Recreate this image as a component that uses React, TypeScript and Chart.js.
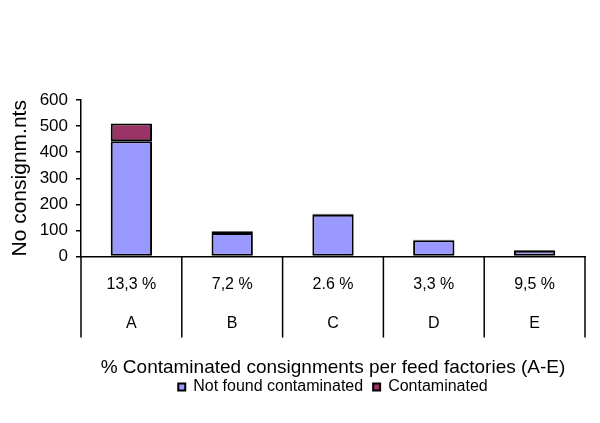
import React, { useEffect, useRef } from "react";
import { Chart, registerables } from "chart.js";

Chart.register(...registerables);

const factories = ["A", "B", "C", "D", "E"];
const percentLabels = ["13,3 %", "7,2 %", "2.6 %", "3,3 %", "9,5 %"];
const notFoundContaminated = [442, 90, 160, 63, 22];
const contaminated = [68, 7, 4, 2, 3];
const yTicks = [0, 100, 200, 300, 400, 500, 600];

const FONT = "'Liberation Sans', Arial, sans-serif";

const dividerPlugin = {
  id: "dividers",
  afterDraw(chart: any) {
    const xs = chart.scales.x;
    const area = chart.chartArea;
    const n = factories.length;
    const half = (xs.getPixelForValue(1) - xs.getPixelForValue(0)) / 2;
    const ctx = chart.ctx;
    ctx.save();
    ctx.strokeStyle = "#000";
    ctx.lineWidth = 1.5;
    for (let i = 0; i <= n; i++) {
      const x = i < n ? xs.getPixelForValue(i) - half : xs.getPixelForValue(n - 1) + half;
      ctx.beginPath();
      ctx.moveTo(x, area.bottom);
      ctx.lineTo(x, area.bottom + 81);
      ctx.stroke();
    }
    ctx.restore();
  },
};

export default function App() {
  const ref = useRef<HTMLCanvasElement>(null);
  useEffect(() => {
    if (!ref.current) return;
    const chart = new Chart(ref.current, {
      type: "bar",
      data: {
        labels: factories.map((f, i) => [percentLabels[i], f]),
        datasets: [
          {
            label: "Not found contaminated",
            data: notFoundContaminated,
            backgroundColor: "#9999FF",
            borderColor: "#000",
            borderWidth: 2,
            borderSkipped: false,
            barPercentage: 0.41,
            categoryPercentage: 1,
          },
          {
            label: "Contaminated",
            data: contaminated,
            backgroundColor: "#993366",
            borderColor: "#000",
            borderWidth: 2,
            borderSkipped: false,
            barPercentage: 0.41,
            categoryPercentage: 1,
          },
        ],
      },
      options: {
        responsive: false,
        animation: false,
        layout: { padding: { top: 100, right: 15, bottom: 18, left: 0 } },
        plugins: {
          tooltip: { enabled: false },
          legend: {
            position: "bottom",
            fullSize: false,
            labels: {
              boxWidth: 7,
              boxHeight: 7,
              padding: 10,
              color: "#000",
              font: { family: FONT, size: 16 },
            },
          },
        },
        scales: {
          x: {
            stacked: true,
            grid: { display: false, drawTicks: false },
            border: { color: "#000", width: 1.5 },
            ticks: {
              color: "#000",
              padding: 8.5,
              autoSkip: false,
              maxRotation: 0,
              font: { family: FONT, size: 16, lineHeight: "39px" },
            },
            title: {
              display: true,
              text: "% Contaminated consignments per feed factories (A-E)",
              color: "#000",
              font: { family: FONT, size: 19 },
              padding: { top: 5, bottom: -10.4 },
            },
          },
          y: {
            stacked: true,
            min: 0,
            max: 600,
            afterBuildTicks: (scale: any) => {
              scale.ticks = yTicks.map((v) => ({ value: v }));
            },
            afterFit: (scale: any) => {
              scale.width = 81;
            },
            grid: { drawOnChartArea: false, drawTicks: true, tickLength: 5, color: "#000", lineWidth: 1.5 },
            border: { color: "#000", width: 1.5 },
            ticks: {
              color: "#000",
              padding: 8,
              font: { family: FONT, size: 17 },
            },
            title: {
              display: true,
              text: "No consignm.nts",
              color: "#000",
              font: { family: FONT, size: 21 },
              padding: { top: 8, bottom: 7 },
            },
          },
        },
      },
      plugins: [dividerPlugin],
    });
    return () => chart.destroy();
  }, []);
  return (
    <div style={{ position: "absolute", left: 0, top: 0, width: 600, height: 423, background: "#fff" }}>
      <canvas ref={ref} width={600} height={423} />
    </div>
  );
}
